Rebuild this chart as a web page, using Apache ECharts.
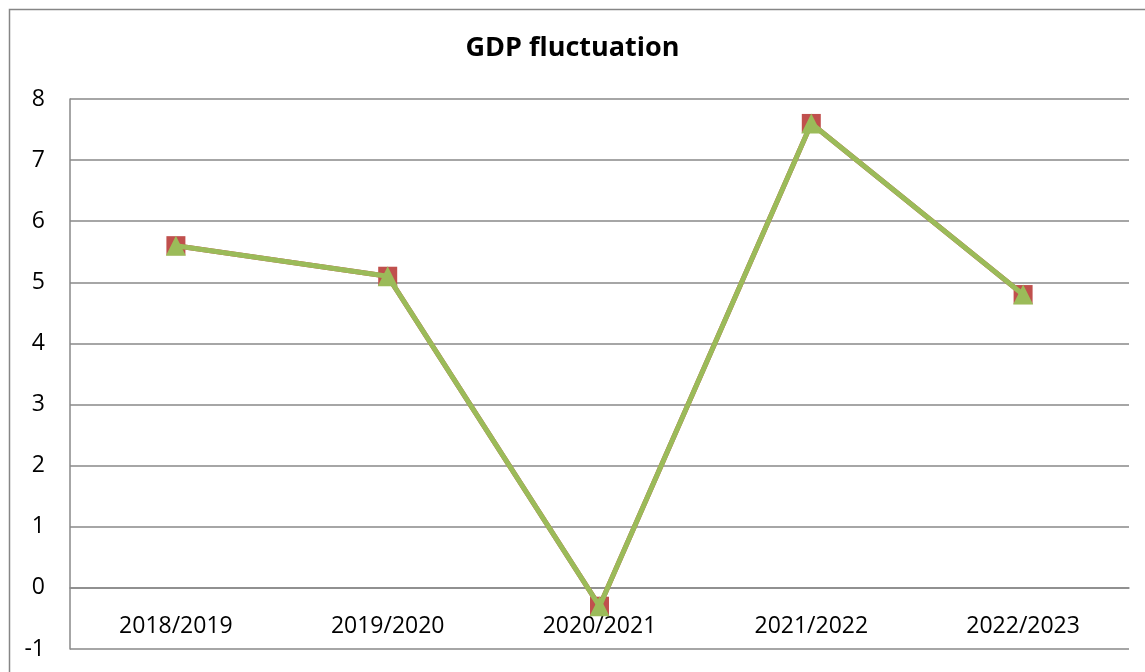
<!DOCTYPE html>
<html>
<head>
<meta charset="utf-8">
<style>
  html, body { margin: 0; padding: 0; background: #fff; }
  #chart { width: 1145px; height: 672px; }
</style>
<script src="https://cdn.jsdelivr.net/npm/echarts@6/dist/echarts.min.js"></script>
</head>
<body>
<div id="chart"></div>
<script>
// Fiscal years and GDP growth (%)
const years = ['2018/2019', '2019/2020', '2020/2021', '2021/2022', '2022/2023'];
const gdpA = [5.6, 5.1, -0.3, 7.6, 4.8];
const gdpB = [5.6, 5.1, -0.3, 7.6, 4.8];
// category labels sit on the zero line
const labelBase = [0, 0, 0, 0, 0];
const yTicks = { min: -1, max: 8, step: 1 };

const chart = echarts.init(document.getElementById('chart'), null, { renderer: 'canvas' });
const font = '"Open Sans", "Liberation Sans", sans-serif';

chart.setOption({
  animation: false,
  backgroundColor: '#ffffff',
  graphic: [{
    type: 'rect',
    left: 7, top: 7,
    shape: { width: 1150, height: 680 },
    style: { fill: 'none', stroke: '#868686', lineWidth: 1.5 },
    silent: true
  }],
  title: {
    text: 'GDP fluctuation',
    left: 'center',
    top: 30,
    textStyle: { fontFamily: font, fontWeight: 'bold', fontSize: 27, color: '#000' }
  },
  grid: { left: 70, right: 16, top: 99, bottom: 23, containLabel: false, outerBoundsMode: 'none' },
  xAxis: {
    type: 'category',
    data: years,
    boundaryGap: true,
    axisLine: { onZero: true, lineStyle: { color: '#898989', width: 1.5 } },
    axisTick: { show: false },
    axisLabel: { show: false }
  },
  yAxis: {
    type: 'value',
    min: yTicks.min,
    max: yTicks.max,
    interval: yTicks.step,
    axisLine: { show: true, lineStyle: { color: '#898989', width: 1.5 } },
    axisTick: { show: false },
    splitLine: { lineStyle: { color: '#898989', width: 1.5 } },
    axisLabel: { color: '#000', fontFamily: font, fontSize: 23, margin: 25 }
  },
  series: [
    {
      name: 'axisLabels',
      type: 'scatter',
      data: labelBase,
      symbol: 'circle',
      symbolSize: 0,
      itemStyle: { color: '#000' },
      silent: true,
      label: {
        show: true,
        position: 'bottom',
        distance: 27,
        formatter: (p) => years[p.dataIndex],
        color: '#000',
        opacity: 1,
        fontFamily: font,
        fontSize: 23,
        lineHeight: 23
      }
    },
    {
      name: 'A',
      type: 'line',
      data: gdpA,
      zlevel: 1,
      symbol: 'rect',
      symbolSize: 19,
      itemStyle: { color: '#C0504D' },
      lineStyle: { color: '#C0504D', width: 5 },
      z: 2
    },
    {
      name: 'B',
      type: 'line',
      data: gdpB,
      zlevel: 1,
      symbol: 'triangle',
      symbolSize: 20,
      itemStyle: { color: '#9BBB59' },
      lineStyle: { color: '#9BBB59', width: 5 },
      z: 3
    }
  ]
});
</script>
</body>
</html>
